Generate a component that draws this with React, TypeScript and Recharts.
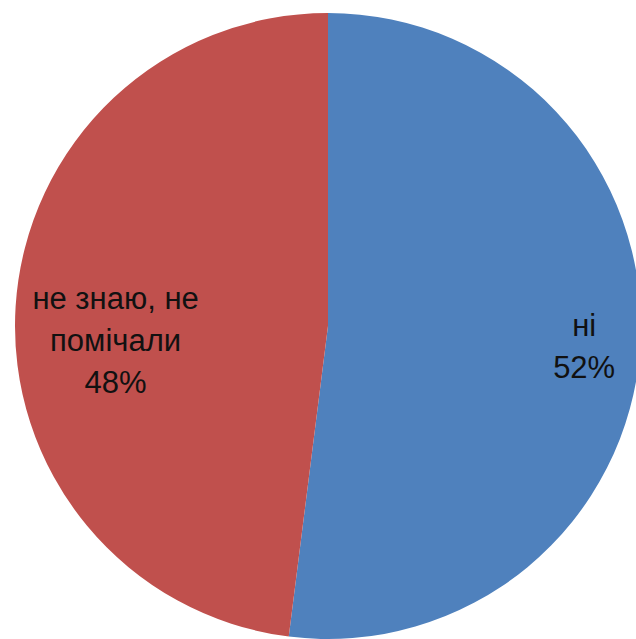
import { PieChart, Pie, Cell } from 'recharts';

const categories = ['ні', 'не знаю, не помічали'];
const values = [52, 48];
const labelLines = [['ні', '52%'], ['не знаю, не', 'помічали', '48%']];
const colors = ['#4F81BD', '#C0504D'];

const data = categories.map((name, i) => ({ name, value: values[i] }));

// label placement relative to slice middle, tuned by eye
const labelRadius = [0.82, 0.68];
const labelShiftY = [4, 27];

const RADIAN = Math.PI / 180;

const renderLabel = (props: any) => {
  const { cx, cy, midAngle, outerRadius, index } = props;
  const r = outerRadius * labelRadius[index];
  const x = cx + r * Math.cos(-midAngle * RADIAN);
  const y = cy + r * Math.sin(-midAngle * RADIAN) + labelShiftY[index];
  const lines = labelLines[index];
  const lh = 42;
  const top = y - ((lines.length - 1) * lh) / 2;
  return (
    <text
      x={x}
      y={top}
      textAnchor="middle"
      dominantBaseline="central"
      fill="#111"
      fontSize={31}
      fontFamily="'Liberation Sans', Arial, sans-serif"
    >
      {lines.map((l, i) => (
        <tspan key={i} x={x} y={top + i * lh} dominantBaseline="central">
          {l}
        </tspan>
      ))}
    </text>
  );
};

export default function App() {
  return (
    <div style={{ position: 'absolute', left: 0, top: 0, width: 636, height: 639, background: '#fff' }}>
      <PieChart width={636} height={639} margin={{ top: 0, right: 0, bottom: 0, left: 0 }}>
        <Pie
          data={data}
          dataKey="value"
          nameKey="name"
          cx={328}
          cy={326}
          outerRadius={313}
          startAngle={90}
          endAngle={-270}
          stroke="none"
          label={renderLabel}
          labelLine={false}
          isAnimationActive={false}
        >
          {data.map((d, i) => (
            <Cell key={d.name} fill={colors[i]} />
          ))}
        </Pie>
      </PieChart>
    </div>
  );
}
